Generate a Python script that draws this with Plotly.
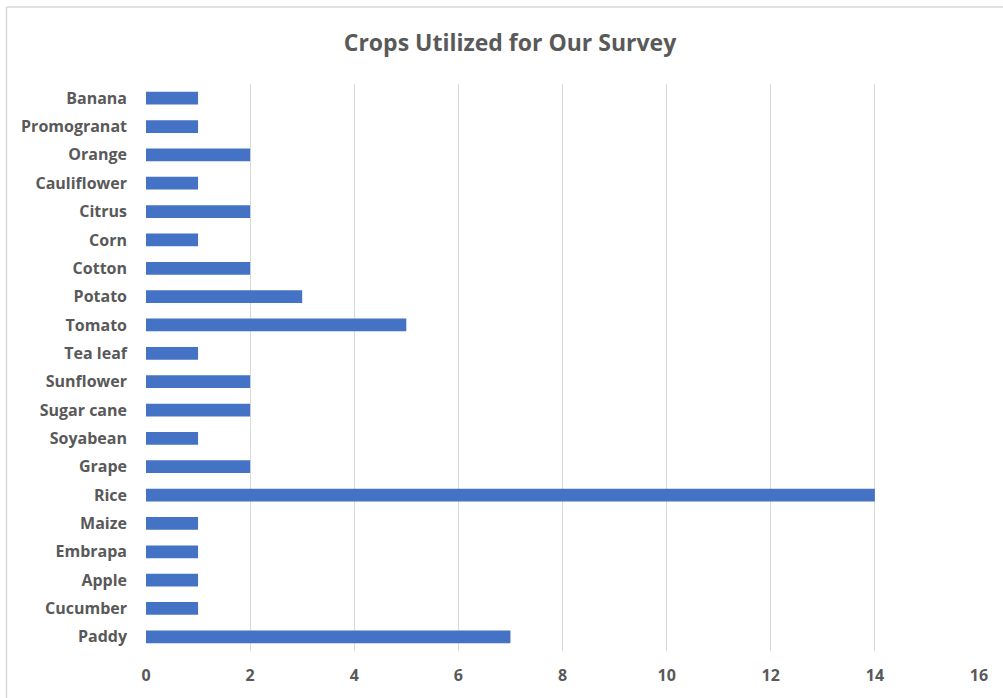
import plotly.graph_objects as go

# Crop names (bottom to top) and number of surveys using each crop
crops = ["Paddy", "Cucumber", "Apple", "Embrapa", "Maize", "Rice", "Grape",
         "Soyabean", "Sugar cane", "Sunflower", "Tea leaf", "Tomato", "Potato",
         "Cotton", "Corn", "Citrus", "Cauliflower", "Orange", "Promogranat", "Banana"]
counts = [7, 1, 1, 1, 1, 14, 2, 1, 2, 2, 1, 5, 3, 2, 1, 2, 1, 2, 1, 1]
x_ticks = [0, 2, 4, 6, 8, 10, 12, 14, 16]

W, H = 1003, 698
ML, MR, MT, MB = 146, 24, 84, 47

fig = go.Figure(go.Bar(
    x=counts, y=crops, orientation="h",
    marker=dict(color="#4472C4", line=dict(width=0)),
    hoverinfo="x+y",
))

text_color = "#595959"
fig.update_layout(
    width=W, height=H,
    margin=dict(l=ML, r=MR, t=MT, b=MB),
    paper_bgcolor="white", plot_bgcolor="white",
    bargap=0.55,
    showlegend=False,
    font=dict(family="'Open Sans', sans-serif", color=text_color),
    title=dict(
        text="<b>Crops Utilized for Our Survey</b>",
        xref="container", x=510 / W, xanchor="center",
        y=1 - 43 / H, yanchor="middle",
        font=dict(size=23, color=text_color),
    ),
    xaxis=dict(
        range=[0, 16], tickvals=x_ticks,
        ticktext=[f"<b>{v}</b>" for v in x_ticks],
        showgrid=True, gridcolor="#D9D9D9", gridwidth=1.3,
        zeroline=False, showline=False, ticks="",
        tickfont=dict(size=16, color=text_color),
        ticklabelstandoff=13,
    ),
    yaxis=dict(
        categoryorder="array", categoryarray=crops,
        tickvals=crops, ticktext=[f"<b>{c}</b>" for c in crops],
        showgrid=False, zeroline=False, showline=False, ticks="",
        tickfont=dict(size=16, color=text_color),
        ticklabelstandoff=18,
    ),
)

# Outer chart frame (top and left edges)
pw, ph = W - ML - MR, H - MT - MB
left_x = (6.5 - ML) / pw
top_y = 1 + (MT - 7) / ph
fig.add_shape(type="line", xref="paper", yref="paper",
              x0=left_x, x1=(W - ML) / pw + 0.01, y0=top_y, y1=top_y,
              line=dict(color="#D9D9D9", width=1.5))
fig.add_shape(type="line", xref="paper", yref="paper",
              x0=left_x, x1=left_x, y0=top_y, y1=-MB / ph - 0.01,
              line=dict(color="#D9D9D9", width=1.5))

fig.write_html("out.html")
